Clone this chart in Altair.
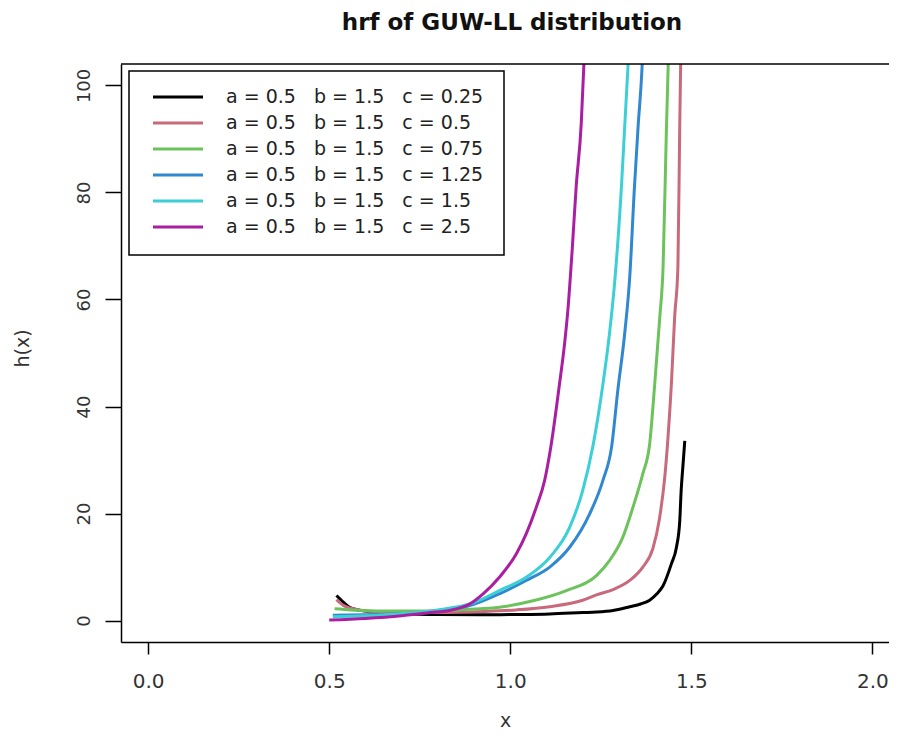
import altair as alt
import pandas as pd

title_text = "hrf of GUW-LL distribution"
labels = [
    "a = 0.5\u00a0\u00a0\u00a0b = 1.5\u00a0\u00a0\u00a0c = 0.25",
    "a = 0.5\u00a0\u00a0\u00a0b = 1.5\u00a0\u00a0\u00a0c = 0.5",
    "a = 0.5\u00a0\u00a0\u00a0b = 1.5\u00a0\u00a0\u00a0c = 0.75",
    "a = 0.5\u00a0\u00a0\u00a0b = 1.5\u00a0\u00a0\u00a0c = 1.25",
    "a = 0.5\u00a0\u00a0\u00a0b = 1.5\u00a0\u00a0\u00a0c = 1.5",
    "a = 0.5\u00a0\u00a0\u00a0b = 1.5\u00a0\u00a0\u00a0c = 2.5",
]
colors = ["#000000", "#C86A7C", "#6CC35C", "#3088D0", "#3CD0D6", "#AA1EA2"]

x_c025 = [0.52, 0.54, 0.556, 0.58, 0.62, 0.70, 0.80, 0.925, 1.03, 1.109, 1.20, 1.238,
          1.284, 1.33, 1.36, 1.385, 1.405, 1.422, 1.445, 1.459, 1.468, 1.472, 1.477, 1.482]
y_c025 = [4.7, 3.4, 2.5, 2.0, 1.6, 1.3, 1.15, 1.1, 1.15, 1.25, 1.5, 1.6,
          1.9, 2.6, 3.1, 3.8, 5.0, 6.5, 10.6, 13.7, 18.5, 24.3, 29.0, 33.6]

x_c05 = [0.52, 0.54, 0.56, 0.60, 0.70, 0.80, 0.925, 1.017, 1.109, 1.20, 1.238, 1.284,
         1.33, 1.366, 1.394, 1.412, 1.427, 1.435, 1.445, 1.454, 1.463, 1.468, 1.472]
y_c05 = [3.9, 2.8, 2.3, 1.8, 1.5, 1.5, 1.7, 2.0, 2.6, 3.8, 4.8, 5.8,
         7.5, 10.0, 13.5, 19.0, 27.0, 33.6, 44.2, 56.7, 66.0, 92.0, 110.0]

x_c075 = [0.515, 0.56, 0.65, 0.75, 0.85, 0.97, 1.063, 1.155, 1.238, 1.274, 1.311, 1.339,
          1.366, 1.385, 1.399, 1.413, 1.422, 1.431, 1.436, 1.44]
y_c075 = [2.2, 2.0, 1.8, 1.8, 2.0, 2.5, 3.7, 5.6, 8.4, 11.2, 15.6, 21.2,
          27.4, 33.0, 44.2, 56.7, 66.0, 91.0, 103.4, 112.0]

x_c125 = [0.51, 0.60, 0.70, 0.80, 0.897, 0.97, 1.044, 1.109, 1.164, 1.219, 1.256, 1.28,
          1.297, 1.316, 1.33, 1.343, 1.353, 1.364, 1.368]
y_c125 = [1.0, 1.1, 1.3, 1.8, 3.0, 5.0, 7.5, 10.0, 13.7, 19.9, 26.2, 32.5,
          43.0, 53.6, 64.2, 81.0, 92.2, 103.4, 110.0]

x_c15 = [0.51, 0.60, 0.70, 0.80, 0.897, 0.97, 1.044, 1.109, 1.164, 1.20, 1.228, 1.256,
         1.274, 1.288, 1.307, 1.316, 1.325, 1.33]
y_c15 = [0.7, 0.9, 1.3, 2.0, 3.3, 5.6, 8.1, 11.8, 17.4, 24.3, 32.5, 44.2,
         53.6, 62.9, 81.0, 92.2, 103.4, 110.0]

x_c25 = [0.50, 0.60, 0.70, 0.78, 0.832, 0.888, 0.925, 0.97, 1.017, 1.044, 1.072, 1.095,
         1.111, 1.136, 1.15, 1.159, 1.171, 1.182, 1.196, 1.203, 1.207]
y_c25 = [0.1, 0.4, 0.9, 1.5, 1.9, 3.1, 5.0, 8.1, 12.5, 16.2, 21.2, 26.2,
         32.0, 44.2, 51.7, 57.9, 69.2, 81.0, 92.8, 103.4, 110.0]

series_x = [x_c025, x_c05, x_c075, x_c125, x_c15, x_c25]
series_y = [y_c025, y_c05, y_c075, y_c125, y_c15, y_c25]

x_ticks = [0.0, 0.5, 1.0, 1.5, 2.0]
y_ticks = [0, 20, 40, 60, 80, 100]

rows = []
for i, (xs, ys) in enumerate(zip(series_x, series_y)):
    for xv, yv in zip(xs, ys):
        rows.append({"series": labels[i], "order": i, "x": xv, "h": yv})
df = pd.DataFrame(rows)

W, H = 768, 578
FONT = "DejaVu Sans"

color_scale = alt.Scale(domain=labels, range=colors)

lines = alt.Chart(df).mark_line(strokeWidth=3, clip=True, interpolate="monotone").encode(
    x=alt.X("x:Q", scale=alt.Scale(domain=[-0.075, 2.046], nice=False, zero=False),
            axis=alt.Axis(values=x_ticks, format=".1f", title="x", tickSize=12,
                          labelPadding=17, labelFontSize=20, labelBaseline="top",
                          titleY=84, titleBaseline="alphabetic", titleFontSize=19)),
    y=alt.Y("h:Q", scale=alt.Scale(domain=[-4, 104], nice=False, zero=False),
            axis=alt.Axis(values=y_ticks, title="h(x)", tickSize=16, labelAngle=270,
                          labelAlign="center", labelBaseline="alphabetic",
                          labelPadding=16, labelFontSize=18,
                          titleX=-99, titleY=284, titleAngle=270, titleAlign="center",
                          titleBaseline="middle", titleFontSize=19)),
    color=alt.Color("series:N", scale=color_scale, legend=None),
    detail="series:N",
    order=alt.Order("x:Q"),
)

top_border = alt.Chart(pd.DataFrame({"a": [0]})).mark_rule(
    color="black", strokeWidth=1.5
).encode(x=alt.value(0), x2=alt.value(W), y=alt.value(0))

leg_df = pd.DataFrame({"series": labels, "idx": list(range(len(labels)))})
leg_df["ly"] = 33 + 26 * leg_df["idx"]

legend_box = alt.Chart(pd.DataFrame({"a": [0]})).mark_rect(
    fill="white", stroke="black", strokeWidth=1.5
).encode(x=alt.value(8), x2=alt.value(383), y=alt.value(7), y2=alt.value(191))

legend_lines = alt.Chart(leg_df).mark_rule(strokeWidth=3).encode(
    x=alt.value(32), x2=alt.value(82),
    y=alt.Y("ly:Q", scale=None, axis=None),
    color=alt.Color("series:N", scale=color_scale, legend=None),
)

legend_text = alt.Chart(leg_df).mark_text(
    align="left", baseline="middle", font=FONT, fontSize=19, color="#222222"
).encode(
    x=alt.value(105),
    y=alt.Y("ly:Q", scale=None, axis=None),
    text="series:N",
)

title_mark = alt.Chart(pd.DataFrame({"t": [title_text]})).mark_text(
    align="center", baseline="alphabetic", font=FONT, fontSize=23, fontWeight="bold",
    color="#111111"
).encode(x=alt.value(391), y=alt.value(-34), text="t:N")

chart = alt.layer(
    lines, top_border, legend_box, legend_lines, legend_text, title_mark
).resolve_scale(
    y="independent"
).properties(
    width=W, height=H,
    padding={"left": 113, "top": 56, "right": 0, "bottom": 87},
    autosize=alt.AutoSizeParams(type="none"),
).configure_view(
    stroke="transparent", strokeWidth=0
).configure_axis(
    grid=False, domain=True, domainColor="black", domainWidth=1.5,
    tickColor="black", tickWidth=1.5,
    labelFont=FONT, titleFont=FONT, labelColor="#333333", titleColor="#333333",
    titleFontWeight="normal",
)

chart.save("out.html", embed_options={"renderer": "svg", "actions": False})
